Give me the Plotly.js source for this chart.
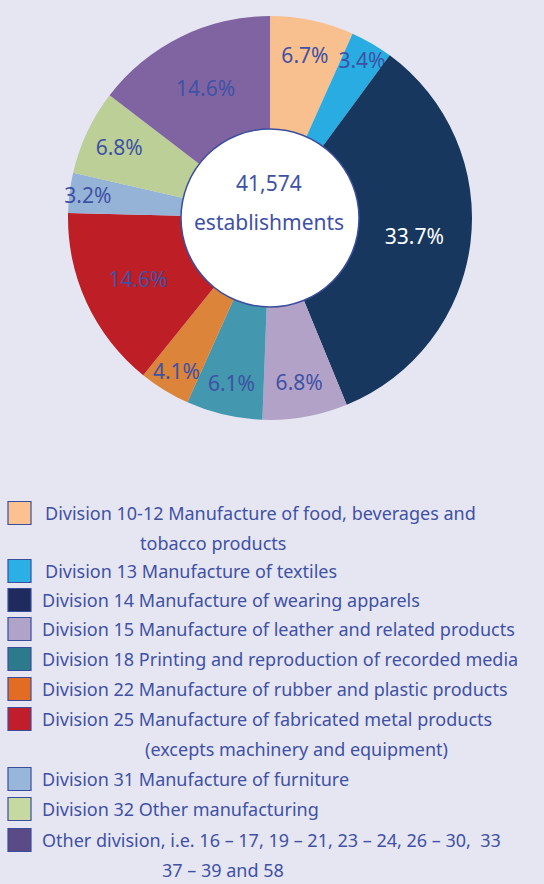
<!DOCTYPE html>
<html>
<head>
<meta charset="utf-8">
<script src="https://cdn.plot.ly/plotly-3.0.1.min.js"></script>
<style>
  html, body { margin: 0; padding: 0; background: #E6E6F2; }
  #chart { width: 544px; height: 884px; }
</style>
</head>
<body>
<div id="chart"></div>
<script>
// data
const divisions = [
    'Division 10-12', 'Division 13', 'Division 14', 'Division 15', 'Division 18',
    'Division 22', 'Division 25', 'Division 31', 'Division 32', 'Other division'
];
const shares = [6.7, 3.4, 33.7, 6.8, 6.1, 4.1, 14.6, 3.2, 6.8, 14.6];
const sliceColors = ['#F9C08F', '#29ACE2', '#17375E', '#B3A2C7', '#4397AE',
                     '#DB843A', '#BE1E26', '#95B3D7', '#BBCF97', '#8064A2'];
const legendColors = ['#FCC190', '#2BB0E6', '#1F2A5E', '#B0A3C8', '#2C7A8C',
                      '#E36C24', '#C01E2A', '#98B6D9', '#C6D9A0', '#5A4A86'];
const legendLines = [
    ['Division 10-12 Manufacture of food, beverages and', 'tobacco products'],
    ['Division 13 Manufacture of textiles'],
    ['Division 14 Manufacture of wearing apparels'],
    ['Division 15 Manufacture of leather and related products'],
    ['Division 18 Printing and reproduction of recorded media'],
    ['Division 22 Manufacture of rubber and plastic products'],
    ['Division 25 Manufacture of fabricated metal products', '(excepts machinery and equipment)'],
    ['Division 31 Manufacture of furniture'],
    ['Division 32 Other manufacturing'],
    ['Other division, i.e. 16 \u2013 17, 19 \u2013 21, 23 \u2013 24, 26 \u2013 30,  33', '37 \u2013 39 and 58']
];
const totalText = '41,574';
const totalLabel = 'establishments';

const W = 544, H = 884;
const textBlue = '#3F51A5';
const fontFam = '"Noto Sans", "Open Sans", sans-serif';

function px(x) { return x / W; }
function py(y) { return 1 - y / H; }

// pie placement (pixels)
const cx = 270, cy = 218, R = 202, holeR = 89;

let labelColors = shares.map((v, i) => i === 2 ? '#FFFFFF' : textBlue);

let pieTrace = {
    type: 'pie',
    labels: divisions,
    values: shares,
    sort: false,
    direction: 'clockwise',
    rotation: 0,
    hole: holeR / R,
    domain: { x: [px(cx - R), px(cx + R)], y: [py(cy + R), py(cy - R)] },
    marker: { colors: sliceColors, line: { width: 0 } },
    texttemplate: '%{value:.1f}%',
    textposition: 'inside',
    insidetextorientation: 'horizontal',
    textfont: { family: fontFam, size: 21, color: labelColors },
    hoverinfo: 'label+percent',
    showlegend: false
};

let shapes = [{
    type: 'circle', xref: 'paper', yref: 'paper',
    x0: px(cx - holeR), x1: px(cx + holeR), y0: py(cy + holeR), y1: py(cy - holeR),
    fillcolor: '#FFFFFF', line: { color: '#3B4E9E', width: 1.5 }, layer: 'above'
}];

let annotations = [
    { x: px(269), y: py(183), text: totalText },
    { x: px(269), y: py(222), text: totalLabel }
].map(a => Object.assign(a, {
    xref: 'paper', yref: 'paper', xanchor: 'center', yanchor: 'middle',
    showarrow: false, font: { family: fontFam, size: 21, color: textBlue }
}));

// legend rows: swatch centre y, first-line text x, second-line x
const rowY = [513, 571, 600, 629, 659, 689, 719, 779, 809, 840];
const firstX = [43, 43, 40, 40, 40, 40, 40, 40, 40, 40];
const secondX = { 0: 138, 6: 143, 9: 160 };

for (let i = 0; i < legendLines.length; i++) {
    shapes.push({
        type: 'rect', xref: 'paper', yref: 'paper',
        x0: px(8), x1: px(31), y0: py(rowY[i] + 11.5), y1: py(rowY[i] - 11.5),
        fillcolor: legendColors[i], line: { color: '#3B4E9E', width: 1.2 }
    });
    legendLines[i].forEach((line, k) => {
        annotations.push({
            xref: 'paper', yref: 'paper',
            x: px(k === 0 ? firstX[i] : secondX[i]), y: py(rowY[i] + k * 30),
            xanchor: 'left', yanchor: 'middle', showarrow: false,
            text: line,
            font: { family: fontFam, size: 18, color: textBlue }
        });
    });
}

let layout = {
    width: W,
    height: H,
    margin: { l: 0, r: 0, t: 0, b: 0 },
    paper_bgcolor: '#E6E6F2',
    plot_bgcolor: '#E6E6F2',
    showlegend: false,
    uniformtext: { mode: 'show', minsize: 21 },
    shapes: shapes,
    annotations: annotations
};

Plotly.newPlot('chart', [pieTrace], layout, { displayModeBar: false, staticPlot: true });
</script>
</body>
</html>
